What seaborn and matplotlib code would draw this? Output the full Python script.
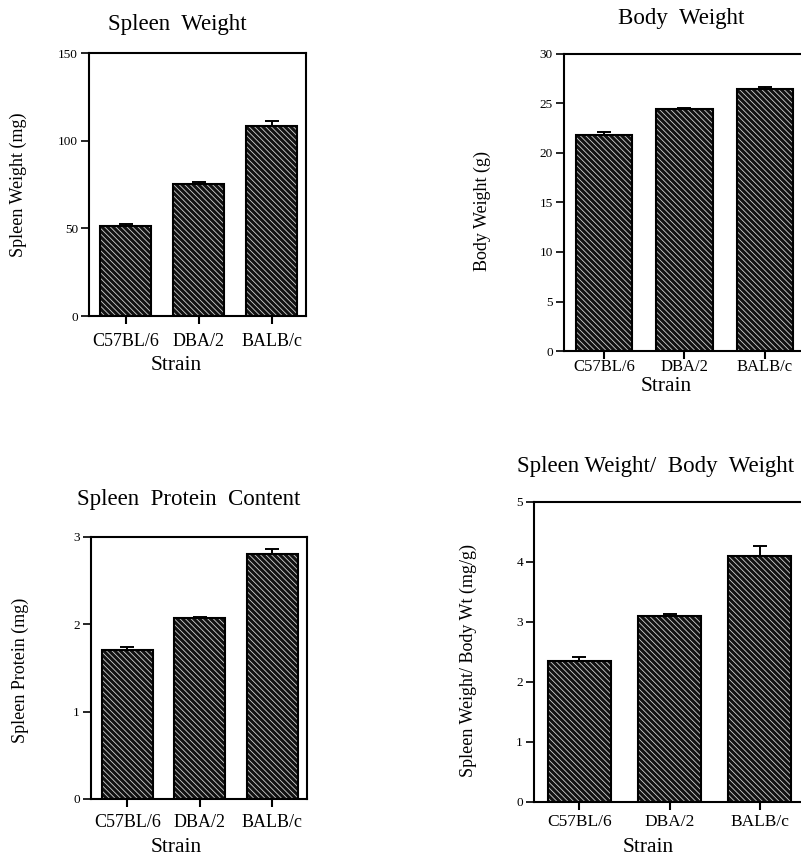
import matplotlib
matplotlib.use("Agg")
import matplotlib.pyplot as plt
from matplotlib.patches import Rectangle
import seaborn as sns
import pandas as pd

strains = ["C57BL/6", "DBA/2", "BALB/c"]

spleen_weight = [51.5, 75.1, 108.2]
spleen_weight_err = [0.8, 1.5, 3.2]

body_weight = [21.8, 24.4, 26.5]
body_weight_err = [0.3, 0.1, 0.2]

spleen_protein = [1.70, 2.07, 2.80]
spleen_protein_err = [0.04, 0.01, 0.06]

weight_ratio = [2.35, 3.10, 4.10]
weight_ratio_err = [0.06, 0.04, 0.16]

sns.set_style("ticks", rc={"text.color": "black", "axes.labelcolor": "black",
                           "xtick.color": "black", "ytick.color": "black",
                           "axes.edgecolor": "black"})
plt.rcParams["font.family"] = ["Liberation Serif", "DejaVu Serif"]
plt.rcParams["hatch.linewidth"] = 0.6


def hatched_bars(ax, values, errors, title, ylabel, ymax, ystep, xmax,
                 title_xy, xlabel_xy, ylabel_xy, tick_size, tick_pad):
    df = pd.DataFrame({"strain": strains, "value": values})
    sns.barplot(data=df, x="strain", y="value", color="#111111", width=0.7,
                errorbar=None, saturation=1, ax=ax)
    for p in list(ax.patches):
        p.set_facecolor("#111111")
        p.set_hatch("\\" * 6)   # dense thin diagonal stripes
        p.set_edgecolor("#d0d0d0")
        p.set_linewidth(0)
        # black outline on top of the hatching
        ax.add_patch(Rectangle(p.get_xy(), p.get_width(), p.get_height(),
                               fill=False, ec="black", lw=1.5, zorder=3))
    ax.errorbar(range(len(values)), values, yerr=[[0] * len(values), errors],
                fmt="none", ecolor="black", elinewidth=1.4, capsize=5,
                capthick=1.4, zorder=4)

    ax.set_xlim(-0.5, xmax)
    ax.set_ylim(0, ymax)
    ax.set_yticks([i * ystep for i in range(int(round(ymax / ystep)) + 1)])
    for s in ax.spines.values():
        s.set_linewidth(1.5)
    ax.tick_params(axis="x", length=6, width=1.5, labelsize=tick_size, pad=tick_pad)
    ax.tick_params(axis="y", length=6, width=1.2, labelsize=9.5, pad=2)

    ax.set_title(title, fontsize=16.5, x=title_xy[0], y=title_xy[1],
                 va="center", pad=0)
    ax.set_xlabel("Strain", fontsize=15.5)
    ax.xaxis.set_label_coords(*xlabel_xy)
    ax.xaxis.label.set_va("center")
    ax.set_ylabel(ylabel, fontsize=13)
    ax.yaxis.set_label_coords(*ylabel_xy)
    ax.yaxis.label.set_va("center")


fig = plt.figure(figsize=(8.01, 8.58), dpi=100)

ax1 = fig.add_axes([0.1111, 0.6317, 0.2709, 0.3065])
hatched_bars(ax1, spleen_weight, spleen_weight_err, "Spleen  Weight",
             "Spleen Weight (mg)", 150, 50, 2.47,
             (0.405, 1.108), (0.40, -0.19), (-0.327, 0.5), 13, 6)

ax2 = fig.add_axes([0.7041, 0.5909, 0.3009, 0.3462])
hatched_bars(ax2, body_weight, body_weight_err, "Body  Weight",
             "Body Weight (g)", 30, 5, 2.5,
             (0.485, 1.12), (0.423, -0.12), (-0.34, 0.471), 12, 0)

ax3 = fig.add_axes([0.1136, 0.0688, 0.2697, 0.3054])
hatched_bars(ax3, spleen_protein, spleen_protein_err, "Spleen  Protein  Content",
             "Spleen Protein (mg)", 3, 1, 2.48,
             (0.454, 1.141), (0.394, -0.185), (-0.329, 0.489), 13, 5)

ax4 = fig.add_axes([0.6667, 0.0653, 0.3383, 0.3497])
hatched_bars(ax4, weight_ratio, weight_ratio_err, "Spleen Weight/  Body  Weight",
             "Spleen Weight/ Body Wt (mg/g)", 5, 1, 2.5,
             (0.447, 1.117), (0.42, -0.152), (-0.242, 0.473), 12.5, 3)

fig.savefig("out.png", dpi=100)
